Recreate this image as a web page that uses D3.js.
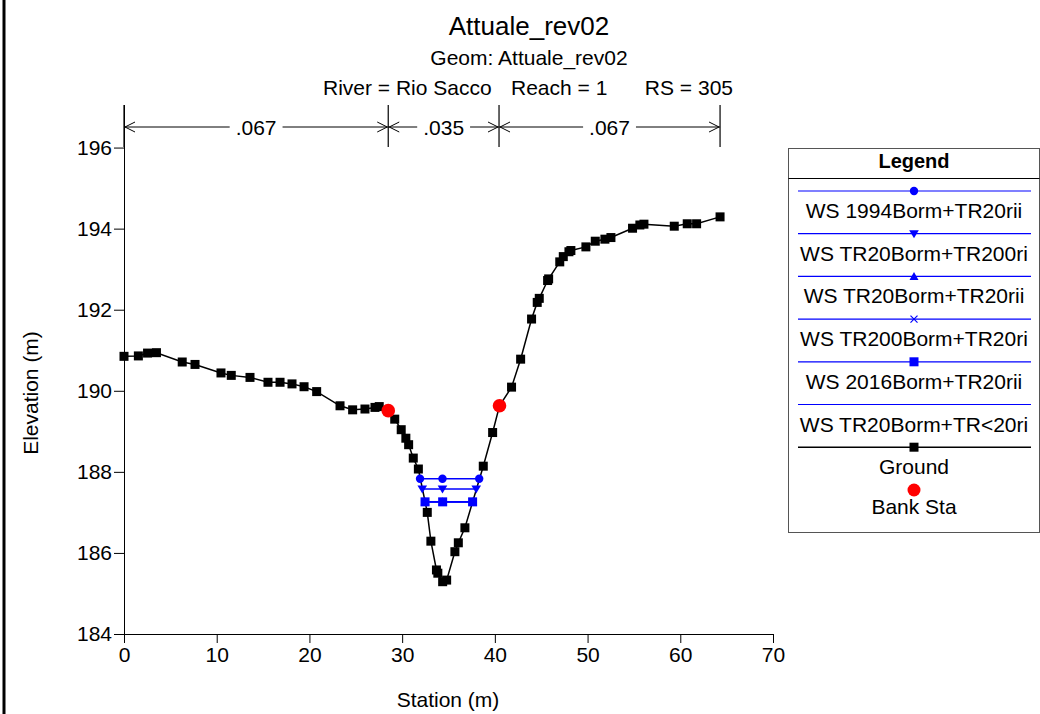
<!DOCTYPE html>
<html>
<head>
<meta charset="utf-8">
<script src="https://cdn.jsdelivr.net/npm/d3@7/dist/d3.min.js"></script>
<style>
html,body{margin:0;padding:0;background:#fff;}
svg{display:block;font-family:"Liberation Sans",Arial,sans-serif;}
</style>
</head>
<body>
<svg id="chart" width="1040" height="714"></svg>
<script>
// ---- Data ----
const titleText = "Attuale_rev02";
const geomText = "Geom: Attuale_rev02";
const riverText = "River = Rio Sacco";
const reachText = "Reach = 1";
const rsText = "RS = 305";

const groundSta = [0, 1.55, 2.54, 3.5, 6.28, 7.66, 10.46, 11.57, 13.59, 15.53, 16.83, 18.12, 19.42, 20.78,
  23.3, 24.66, 25.99, 27.07, 27.53, 28.5, 29.2, 29.9, 30.4, 30.7, 31.2, 31.75, 32.71, 33.1, 33.7, 33.85,
  34.37, 34.8, 35.69, 36.06, 36.77, 38.75, 39.76, 40.5, 41.8, 42.78, 43.96, 44.57, 44.79, 45.69, 45.8,
  47.0, 47.38, 47.99, 48.2, 49.82, 50.83, 51.87, 52.52, 54.85, 55.64, 56.08, 59.35, 60.75, 61.76, 64.29];
const groundElev = [190.85, 190.86, 190.93, 190.94, 190.71, 190.65, 190.44, 190.38, 190.33, 190.21, 190.21, 190.17, 190.10, 189.98,
  189.63, 189.53, 189.55, 189.59, 189.61, 189.51, 189.30, 189.04, 188.83, 188.67, 188.34, 188.07, 187.0, 186.29, 185.58, 185.5,
  185.29, 185.33, 186.03, 186.25, 186.62, 188.14, 188.97, 189.63, 190.09, 190.78, 191.77, 192.18, 192.28, 192.72, 192.76,
  193.18, 193.31, 193.43, 193.46, 193.55, 193.69, 193.74, 193.78, 194.01, 194.09, 194.11, 194.06, 194.12, 194.12, 194.29];

const bankSta = [28.5, 40.5];
const bankElev = [189.51, 189.63];

const nBreaks = [0, 28.5, 40.45, 64.29];
const nValues = [".067", ".035", ".067"];

const wsNames = ["WS 1994Borm+TR20rii", "WS TR20Borm+TR200ri", "WS TR20Borm+TR20rii",
  "WS TR200Borm+TR20ri", "WS 2016Borm+TR20rii", "WS TR20Borm+TR<20ri"];
const wsMarkers = ["circle", "triDown", "triUp", "x", "square", "none"];
const wsElev = [187.83, 187.58, 187.26, 187.26, 187.26, 187.26];
const wsLeft = [31.93, 32.17, 32.47, 32.47, 32.47, 32.47];
const wsRight = [38.31, 37.99, 37.6, 37.6, 37.6, 37.6];
const wsMid = [34.35, 34.35, 34.37, 34.37, 34.37, 34.37];

const xTicksMajor = [0, 10, 20, 30, 40, 50, 60, 70];
const yTicksMajor = [184, 186, 188, 190, 192, 194, 196];

// ---- Layout ----
const svg = d3.select("#chart");
const blue = "#0000ff";
const x = d3.scaleLinear().domain([0, 70]).range([124, 773]);
const y = d3.scaleLinear().domain([184, 197.05]).range([634, 105]);

// window border on left
svg.append("line").attr("x1", 4).attr("x2", 4).attr("y1", 0).attr("y2", 714)
  .attr("stroke", "#000").attr("stroke-width", 3);

// titles
svg.append("text").attr("x", 529).attr("y", 35).attr("text-anchor", "middle")
  .attr("font-size", 26).text(titleText);
svg.append("text").attr("x", 529).attr("y", 65).attr("text-anchor", "middle")
  .attr("font-size", 21).text(geomText);
svg.append("text").attr("x", 323).attr("y", 95).attr("font-size", 21).text(riverText);
svg.append("text").attr("x", 511).attr("y", 95).attr("font-size", 21).text(reachText);
svg.append("text").attr("x", 733).attr("y", 95).attr("text-anchor", "end").attr("font-size", 21).text(rsText);

// axes
const xAxis = d3.axisBottom(x).tickValues(xTicksMajor).tickSize(9).tickSizeOuter(0).tickPadding(4);
const xMinor = d3.axisBottom(x).tickValues(d3.range(0, 71, 2)).tickSize(5).tickFormat("").tickSizeOuter(0);
const yAxis = d3.axisLeft(y).tickValues(yTicksMajor).tickSize(10).tickSizeOuter(0).tickPadding(2);
const yMinor = d3.axisLeft(y).tickValues(d3.range(184, 197.01, 0.5)).tickSize(5).tickFormat("").tickSizeOuter(0);

const gx = svg.append("g").attr("transform", `translate(0,${y(184)})`);
gx.call(xMinor);
gx.call(xAxis);
const gy = svg.append("g").attr("transform", `translate(${x(0)},0)`);
gy.call(yMinor);
gy.call(yAxis);
svg.selectAll(".tick text").attr("font-size", 21).attr("font-family", "Liberation Sans, Arial, sans-serif").attr("fill", "#000");
svg.selectAll(".domain, .tick line").attr("stroke", "#000");
gx.selectAll(".domain").remove();
gy.selectAll(".domain").remove();
svg.append("line").attr("x1", x(0)).attr("x2", x(70)).attr("y1", y(184) + 0.5).attr("y2", y(184) + 0.5).attr("stroke", "#000");
svg.append("line").attr("x1", x(0) + 0.5).attr("x2", x(0) + 0.5).attr("y1", y(184)).attr("y2", y(197.05)).attr("stroke", "#000");

svg.append("text").attr("x", 448).attr("y", 707).attr("text-anchor", "middle").attr("font-size", 21).text("Station (m)");
svg.append("text").attr("transform", "translate(38,393) rotate(-90)").attr("text-anchor", "middle")
  .attr("font-size", 21).text("Elevation (m)");

// n-value annotation
const nTop = 105, nBot = 147, nArrowY = 127;
nBreaks.forEach(s => {
  svg.append("line").attr("x1", x(s)).attr("x2", x(s)).attr("y1", nTop).attr("y2", nBot)
    .attr("stroke", "#000").attr("stroke-width", 1.2);
});
for (let i = 0; i < nValues.length; i++) {
  const a = x(nBreaks[i]), b = x(nBreaks[i + 1]);
  const mid = (a + b) / 2;
  const t = svg.append("text").attr("x", mid).attr("y", nArrowY + 7.5).attr("text-anchor", "middle")
    .attr("font-size", 21).text(nValues[i]);
  const w = t.node().getComputedTextLength();
  const g1 = mid - w / 2 - 6, g2 = mid + w / 2 + 6;
  svg.append("line").attr("x1", a).attr("x2", g1).attr("y1", nArrowY).attr("y2", nArrowY).attr("stroke", "#000");
  svg.append("line").attr("x1", g2).attr("x2", b).attr("y1", nArrowY).attr("y2", nArrowY).attr("stroke", "#000");
  svg.append("path").attr("d", `M${a + 11},${nArrowY - 5} L${a + 1},${nArrowY} L${a + 11},${nArrowY + 5}`)
    .attr("fill", "none").attr("stroke", "#000");
  svg.append("path").attr("d", `M${b - 11},${nArrowY - 5} L${b - 1},${nArrowY} L${b - 11},${nArrowY + 5}`)
    .attr("fill", "none").attr("stroke", "#000");
}

// marker helper
function marker(g, type, cx, cy, color) {
  if (type === "circle") {
    g.append("circle").attr("cx", cx).attr("cy", cy).attr("r", 4.2).attr("fill", color);
  } else if (type === "triDown") {
    g.append("path").attr("d", `M${cx - 4.8},${cy - 3.5} L${cx + 4.8},${cy - 3.5} L${cx},${cy + 4.5} Z`).attr("fill", color);
  } else if (type === "triUp") {
    g.append("path").attr("d", `M${cx - 4.5},${cy + 3.5} L${cx + 4.5},${cy + 3.5} L${cx},${cy - 4.5} Z`).attr("fill", color);
  } else if (type === "x") {
    g.append("path").attr("d", `M${cx - 3.5},${cy - 3.5} L${cx + 3.5},${cy + 3.5} M${cx - 3.5},${cy + 3.5} L${cx + 3.5},${cy - 3.5}`)
      .attr("stroke", color).attr("stroke-width", 1.2).attr("fill", "none");
  } else if (type === "square") {
    g.append("rect").attr("x", cx - 4.5).attr("y", cy - 4.5).attr("width", 9).attr("height", 9).attr("fill", color);
  }
}

// ground
const ground = groundSta.map((s, i) => [s, groundElev[i]]);
const line = d3.line().x(d => x(d[0])).y(d => y(d[1]));
const gG = svg.append("g");
gG.append("path").attr("d", line(ground)).attr("fill", "none").attr("stroke", "#000").attr("stroke-width", 1.5);
ground.forEach(d => {
  gG.append("rect").attr("x", x(d[0]) - 4.5).attr("y", y(d[1]) - 4.5).attr("width", 9).attr("height", 9).attr("fill", "#000");
});

// water surfaces
const gW = svg.append("g");
for (let i = 0; i < wsNames.length; i++) {
  const yy = y(wsElev[i]);
  gW.append("line").attr("x1", x(wsLeft[i])).attr("x2", x(wsRight[i])).attr("y1", yy).attr("y2", yy)
    .attr("stroke", blue).attr("stroke-width", 1.5);
  [wsLeft[i], wsMid[i], wsRight[i]].forEach(s => marker(gW, wsMarkers[i], x(s), yy, blue));
}

// bank stations
bankSta.forEach((s, i) => {
  svg.append("circle").attr("cx", x(s)).attr("cy", y(bankElev[i])).attr("r", 6.8).attr("fill", "#ff0000");
});

// legend
const lg = svg.append("g");
lg.append("rect").attr("x", 788.5).attr("y", 148.5).attr("width", 251).attr("height", 384)
  .attr("fill", "#fff").attr("stroke", "#555").attr("stroke-width", 1);
lg.append("line").attr("x1", 788.5).attr("x2", 1039.5).attr("y1", 178.5).attr("y2", 178.5).attr("stroke", "#000");
lg.append("text").attr("x", 914).attr("y", 168).attr("text-anchor", "middle").attr("font-size", 20)
  .attr("font-weight", "bold").text("Legend");
const lx1 = 798, lx2 = 1031, lcx = 914, lstep = 42.7, ly0 = 191;
for (let i = 0; i < wsNames.length; i++) {
  const ly = ly0 + i * lstep;
  lg.append("line").attr("x1", lx1).attr("x2", lx2).attr("y1", ly).attr("y2", ly).attr("stroke", blue).attr("stroke-width", 1.2);
  marker(lg, wsMarkers[i], lcx, ly, blue);
  lg.append("text").attr("x", lcx).attr("y", ly + 27).attr("text-anchor", "middle").attr("font-size", 21).text(wsNames[i]);
}
const lyG = ly0 + 6 * lstep;
lg.append("line").attr("x1", lx1).attr("x2", lx2).attr("y1", lyG).attr("y2", lyG).attr("stroke", "#000").attr("stroke-width", 1.5);
lg.append("rect").attr("x", lcx - 4.5).attr("y", lyG - 4.5).attr("width", 9).attr("height", 9).attr("fill", "#000");
lg.append("text").attr("x", lcx).attr("y", lyG + 27).attr("text-anchor", "middle").attr("font-size", 21).text("Ground");
lg.append("circle").attr("cx", lcx).attr("cy", 490).attr("r", 6.5).attr("fill", "#ff0000");
lg.append("text").attr("x", lcx).attr("y", 514).attr("text-anchor", "middle").attr("font-size", 21).text("Bank Sta");
</script>
</body>
</html>
